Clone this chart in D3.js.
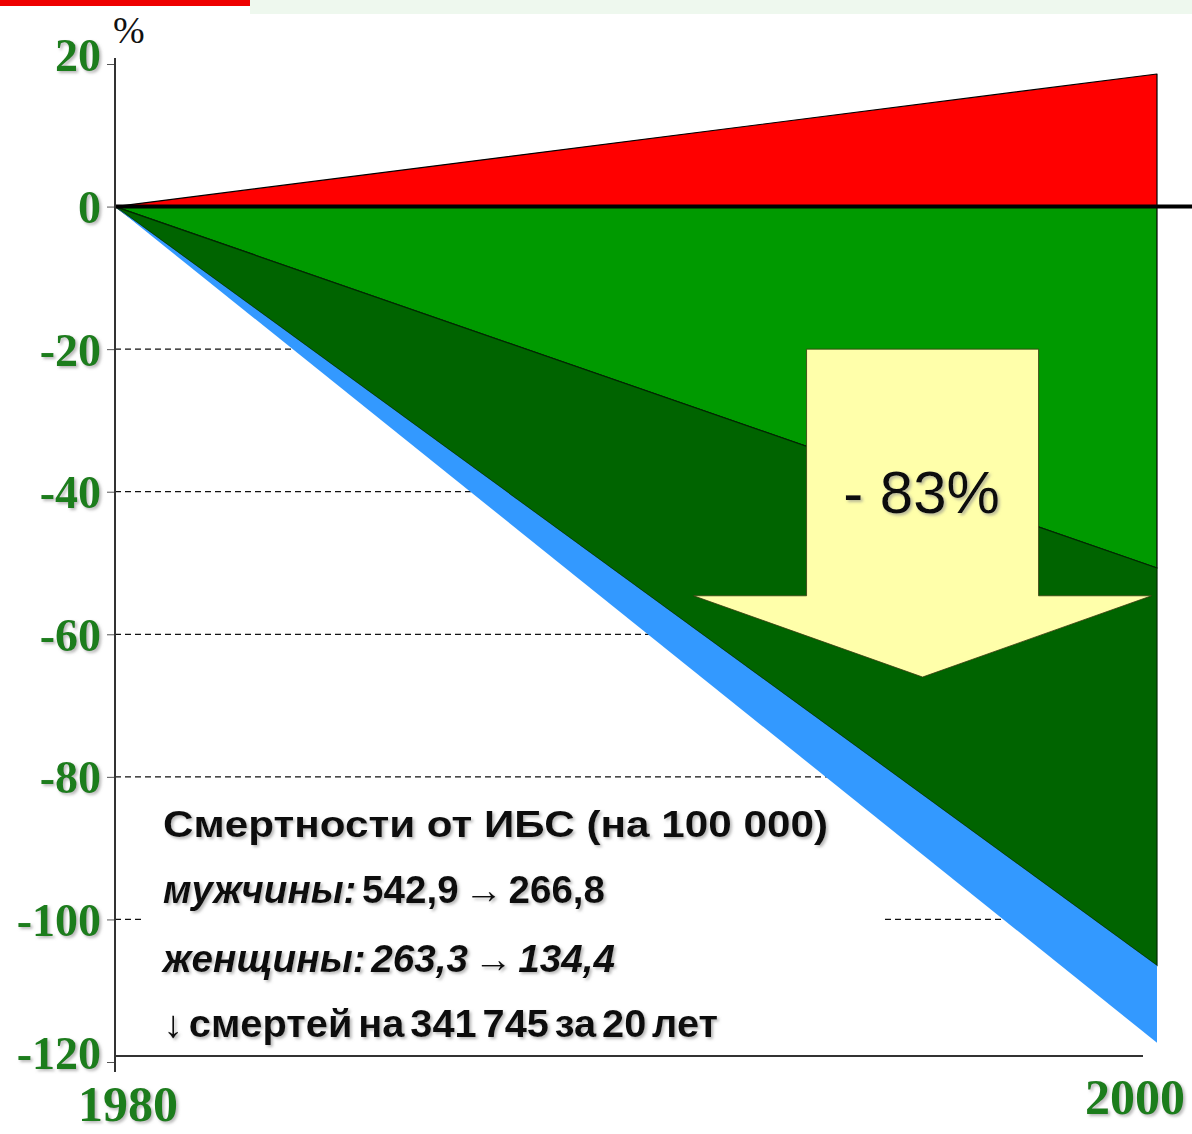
<!DOCTYPE html>
<html>
<head>
<meta charset="utf-8">
<script src="https://cdn.jsdelivr.net/npm/d3@7"></script>
<style>
    body { margin: 0; background: #fff; }
    svg { display: block; }
</style>
</head>
<body>
<div id="chart"></div>
<script>
// Values (% change against 1980)
const years = [1980, 2000];
const riseValues = [0, 18.6];          // red wedge above zero
const lightGreenValues = [0, -50.7];   // light green lower edge
const darkGreenValues = [0, -106.5];   // dark green lower edge
const blueValues = [0, -117.3];        // blue lower edge
const yTicks = [20, 0, -20, -40, -60, -80, -100, -120];
const gridTicks = [-20, -40, -60, -80, -100];
const yearLabels = ["1980", "2000"];
const arrowLabel = "- 83%";
const noteLines = [
    [{ t: "Смертности от ИБС (на 100 000)", italic: false }],
    [{ t: "мужчины:", italic: true }, { t: " 542,9 → 266,8", italic: false }],
    [{ t: "женщины: 263,3 → 134,4", italic: true }],
    [{ t: "↓ смертей на 341 745 за 20 лет", italic: false }]
];

class DeclineChart {

    constructor(selector) {
        this.width = 1192;
        this.height = 1134;
        this.green = "#1f7d1f";

        this.svg = d3.select(selector)
            .append("svg")
                .attr("width", this.width)
                .attr("height", this.height);

        this.series = years.map((year, i) => ({
            year: year,
            rise: riseValues[i],
            light: lightGreenValues[i],
            dark: darkGreenValues[i],
            blue: blueValues[i]
        }));

        this.createScales();
        this.addFilters();
        this.drawBanner();
        this.drawGrid();
        this.drawAreas();
        this.drawAxes();
        this.drawArrow();
        this.drawNote();
    }

    createScales() {
        this.x = d3.scaleLinear()
            .domain([1980, 2000])
            .range([115, 1157]);

        this.y = d3.scaleLinear()
            .domain([-120, 20])
            .range([1062, 64]);
    }

    addFilters() {
        const defs = this.svg.append("defs");
        defs.append("filter")
            .attr("id", "shadow")
            .attr("x", "-10%").attr("y", "-20%")
            .attr("width", "130%").attr("height", "150%")
            .append("feDropShadow")
                .attr("dx", 2).attr("dy", 2)
                .attr("stdDeviation", 1.5)
                .attr("flood-color", "#888")
                .attr("flood-opacity", 0.6);
    }

    drawBanner() {
        this.svg.append("rect")
            .attr("x", 250).attr("y", 0)
            .attr("width", this.width - 250).attr("height", 14)
            .attr("fill", "#eef8ee");
        this.svg.append("rect")
            .attr("x", 0).attr("y", 0)
            .attr("width", 250).attr("height", 6)
            .attr("fill", "#ee0000");
    }

    drawGrid() {
        this.svg.append("g")
            .selectAll("line")
            .data(gridTicks)
            .enter()
            .append("line")
                .attr("x1", this.x(1980))
                .attr("x2", this.x(2000))
                .attr("y1", d => this.y(d))
                .attr("y2", d => this.y(d))
                .attr("stroke", "#111")
                .attr("stroke-width", 1.2)
                .attr("stroke-dasharray", "6,4");

        // white box behind the note hides the grid
        this.svg.append("rect")
            .attr("x", 145).attr("y", 795)
            .attr("width", 740).attr("height", 250)
            .attr("fill", "#fff");
    }

    drawAreas() {
        const layers = [
            { top: "rise", bottom: null, fill: "#ff0000", stroke: "#000" },
            { top: null, bottom: "light", fill: "#009a00", stroke: "#000" },
            { top: "light", bottom: "dark", fill: "#006400", stroke: "#002a00" },
            { top: "dark", bottom: "blue", fill: "#3399ff", stroke: "none" }
        ];

        const g = this.svg.append("g");
        layers.forEach(l => {
            const area = d3.area()
                .x(d => this.x(d.year))
                .y0(d => this.y(l.bottom ? d[l.bottom] : 0))
                .y1(d => this.y(l.top ? d[l.top] : 0));
            g.append("path")
                .datum(this.series)
                .attr("d", area)
                .attr("fill", l.fill)
                .attr("stroke", l.stroke)
                .attr("stroke-width", 1.2)
                .attr("stroke-linejoin", "round");
        });

        // thick zero line
        this.svg.append("line")
            .attr("x1", this.x(1980))
            .attr("x2", this.width)
            .attr("y1", this.y(0))
            .attr("y2", this.y(0))
            .attr("stroke", "#000")
            .attr("stroke-width", 4);
    }

    drawAxes() {
        const axis = d3.axisLeft(this.y)
            .tickValues(yTicks)
            .tickSize(8)
            .tickPadding(6)
            .tickFormat(d => String(d));

        const gy = this.svg.append("g")
            .attr("transform", `translate(${this.x(1980)},0)`)
            .call(axis);
        gy.select(".domain").remove();
        gy.selectAll(".tick line").attr("stroke", "#555");
        gy.selectAll(".tick text")
            .attr("fill", this.green)
            .attr("font-family", "'Liberation Serif', 'Times New Roman', serif")
            .attr("font-weight", "bold")
            .attr("font-size", 46)
            .attr("dy", d => d === 20 ? "0.15em" : d === -120 ? "0.15em" : "0.35em")
            .attr("filter", "url(#shadow)");

        // y axis line
        this.svg.append("line")
            .attr("x1", this.x(1980)).attr("x2", this.x(1980))
            .attr("y1", this.y(20) - 6).attr("y2", this.y(-120) + 10)
            .attr("stroke", "#333").attr("stroke-width", 2);

        // x axis line
        this.svg.append("line")
            .attr("x1", this.x(1980)).attr("x2", this.x(2000) - 14)
            .attr("y1", this.y(-120) - 6).attr("y2", this.y(-120) - 6)
            .attr("stroke", "#333").attr("stroke-width", 2);

        // unit
        this.svg.append("text")
            .attr("x", this.x(1980) - 2)
            .attr("y", 43)
            .attr("font-family", "'Liberation Serif', 'Times New Roman', serif")
            .attr("font-size", 38)
            .attr("fill", "#111")
            .text("%");

        // year labels
        const offsets = [{ dx: 13, y: 1121 }, { dx: -22, y: 1114 }];
        this.svg.append("g")
            .selectAll("text")
            .data(yearLabels)
            .enter()
            .append("text")
                .attr("x", (d, i) => this.x(+d) + offsets[i].dx)
                .attr("y", (d, i) => offsets[i].y)
                .attr("text-anchor", "middle")
                .attr("fill", this.green)
                .attr("font-family", "'Liberation Serif', 'Times New Roman', serif")
                .attr("font-weight", "bold")
                .attr("font-size", 50)
                .attr("filter", "url(#shadow)")
                .text(d => d);
    }

    drawArrow() {
        const cx = this.x(1995.5);
        const shaft = 116;
        const head = 229;
        const top = this.y(-20);
        const neck = this.y(-54.6);
        const tip = this.y(-66);

        const pts = [
            [cx - shaft, top], [cx + shaft, top], [cx + shaft, neck],
            [cx + head, neck], [cx, tip], [cx - head, neck], [cx - shaft, neck]
        ];

        this.svg.append("polygon")
            .attr("points", pts.map(p => p.join(",")).join(" "))
            .attr("fill", "#ffffaa")
            .attr("stroke", "#3a3a10")
            .attr("stroke-width", 0.8);

        this.svg.append("text")
            .attr("x", cx - 1)
            .attr("y", 513)
            .attr("text-anchor", "middle")
            .attr("font-family", "'Liberation Sans', Arial, sans-serif")
            .attr("font-size", 60)
            .attr("fill", "#111")
            .attr("filter", "url(#shadow)")
            .text(arrowLabel);
    }

    drawNote() {
        const baselines = [837, 903, 972, 1037];
        const lengths = [665, 442, 452, 555];
        const sizes = [36, 38, 38, 38];

        const g = this.svg.append("g")
            .attr("font-family", "'Liberation Sans', Arial, sans-serif")
            .attr("font-weight", "bold")
            .attr("fill", "#111")
            .attr("filter", "url(#shadow)");

        noteLines.forEach((line, i) => {
            const t = g.append("text")
                .attr("x", 163)
                .attr("y", baselines[i])
                .attr("font-size", sizes[i])
                .attr("word-spacing", i === 0 ? 0 : -5)
                .attr("textLength", lengths[i])
                .attr("lengthAdjust", "spacingAndGlyphs");
            line.forEach(part => {
                t.append("tspan")
                    .attr("font-style", part.italic ? "italic" : "normal")
                    .text(part.t);
            });
        });
    }
}

new DeclineChart("#chart");
</script>
</body>
</html>
